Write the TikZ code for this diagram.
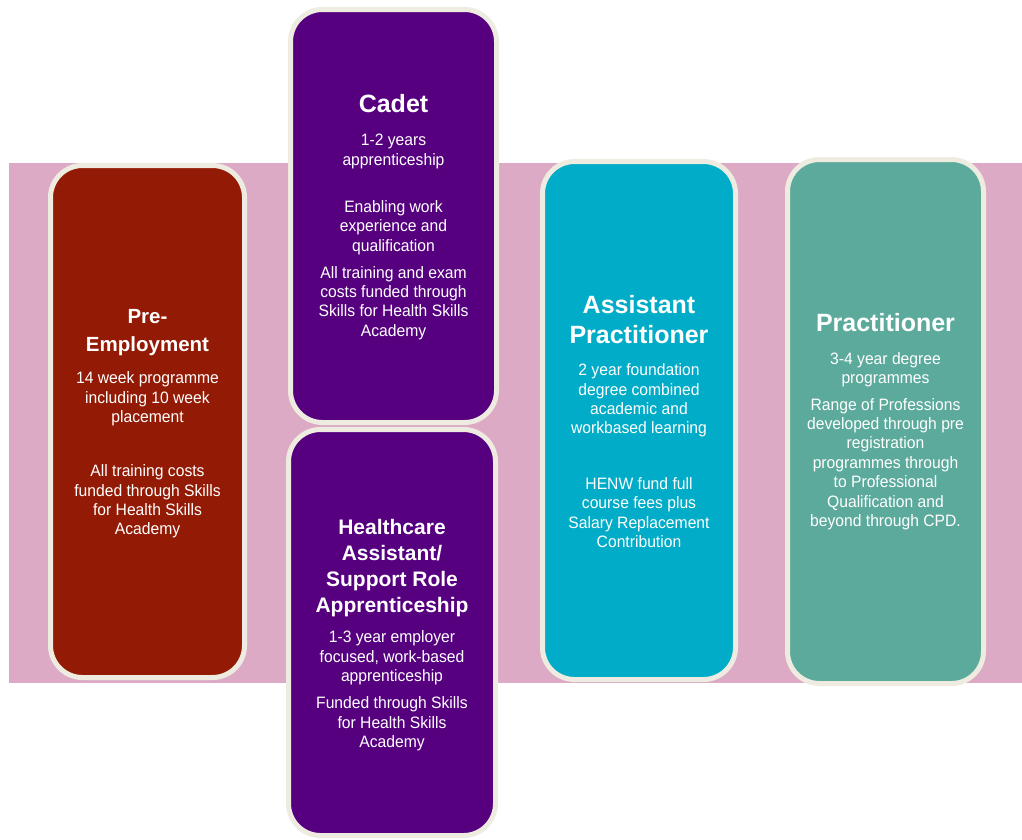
\documentclass[tikz,border=0pt]{standalone}
\usepackage{fontspec}
\setmainfont{Liberation Sans}
\newfontfamily\bodyfont[FakeStretch=0.95]{Liberation Sans}
\definecolor{bandpink}{HTML}{DCAAC5}
\definecolor{cream}{HTML}{EEECE1}
\definecolor{preRed}{HTML}{931A04}
\definecolor{cadetPurple}{HTML}{560080}
\definecolor{apBlue}{HTML}{00ACC7}
\definecolor{prGreen}{HTML}{5BAA9C}
\tikzset{
  stagebox/.style={draw=cream, line width=5pt, rounded corners=32pt, inner sep=0pt},
  ttl/.style={text=white, align=center, inner sep=0pt, font=\bfseries\fontsize{25}{30}\selectfont},
  ttlsmall/.style={text=white, align=center, inner sep=0pt, font=\bfseries\fontsize{20.5}{28}\selectfont},
  ttlmid/.style={text=white, align=center, inner sep=0pt, font=\bfseries\fontsize{21}{26}\selectfont},
  bdy/.style={text=white, align=center, inner sep=0pt, font=\bodyfont\fontsize{16.5}{19.4}\selectfont},
}
\begin{document}
\begin{tikzpicture}[x=1pt,y=-1pt]
\useasboundingbox (0,0) rectangle (1022,839);
\fill[bandpink] (9,163) rectangle (1022,683);

% boxes
\node[stagebox, fill=preRed, minimum width=194pt, minimum height=512pt] (pre) at (147.5,421.5) {};
\node[stagebox, fill=cadetPurple, minimum width=206pt, minimum height=413pt] (cadet) at (393.5,216) {};
\node[stagebox, fill=cadetPurple, minimum width=207pt, minimum height=406pt] (hca) at (392,632.5) {};
\node[stagebox, fill=apBlue, minimum width=193pt, minimum height=518pt] (ap) at (639,420.5) {};
\node[stagebox, fill=prGreen, minimum width=196pt, minimum height=524pt] (pr) at (885.5,421.5) {};

% Pre-Employment
\node[ttlsmall] (preT) at (147.5,333) {Pre-\\Employment};
\node[bdy] (preB1) at (147.5,399) {14 week programme\\including 10 week\\placement};
\node[bdy] (preB2) at (147.5,501.5) {All training costs\\funded through Skills\\for Health Skills\\Academy};

% Cadet
\node[ttl] (cadT) at (393.5,104) {Cadet};
\node[bdy] (cadB1) at (393.5,151.5) {1-2 years\\apprenticeship};
\node[bdy] (cadB2) at (393.5,227.5) {Enabling work\\experience and\\qualification};
\node[bdy] (cadB3) at (393.5,303) {All training and exam\\costs funded through\\Skills for Health Skills\\Academy};

% Healthcare
\node[ttlmid] (hcaT) at (392,568) {Healthcare\\Assistant/\\Support Role\\Apprenticeship};
\node[bdy] (hcaB1) at (392,658) {1-3 year employer\\focused, work-based\\apprenticeship};
\node[bdy] (hcaB2) at (392,724) {Funded through Skills\\for Health Skills\\Academy};

% Assistant Practitioner
\node[ttl] (apT) at (639,319.5) {Assistant\\Practitioner};
\node[bdy] (apB1) at (639,400.5) {2 year foundation\\degree combined\\academic and\\workbased learning};
\node[bdy] (apB2) at (639,512.5) {HENW fund full\\course fees plus\\Salary Replacement\\Contribution};

% Practitioner
\node[ttl] (prT) at (885.5,322.5) {Practitioner};
\node[bdy] (prB1) at (885.5,370) {3-4 year degree\\programmes};
\node[bdy] (prB2) at (885.5,464) {Range of Professions\\developed through pre\\registration\\programmes through\\to Professional\\Qualification and\\beyond through CPD.};
\end{tikzpicture}
\end{document}
